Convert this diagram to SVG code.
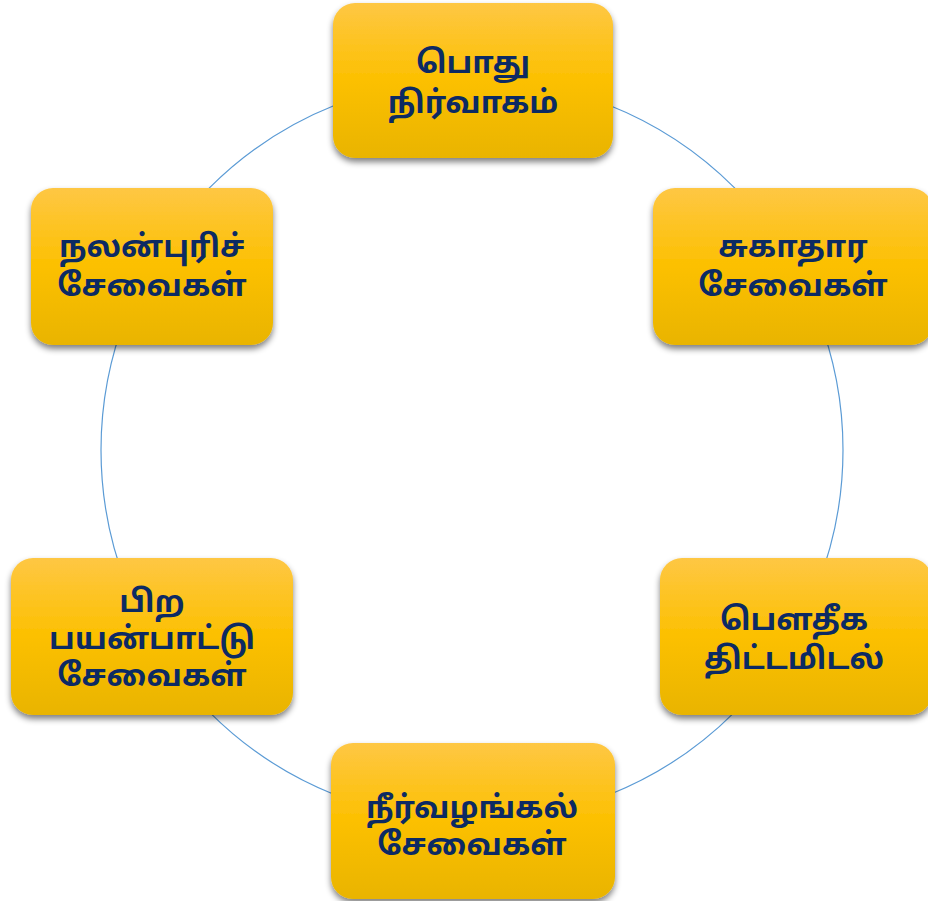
<svg xmlns="http://www.w3.org/2000/svg" width="928" height="901" viewBox="0 0 928 901">
<defs>
<linearGradient id="gold" x1="0" y1="0" x2="0" y2="1">
<stop offset="0" stop-color="#fec744"/>
<stop offset="0.5" stop-color="#fcc000"/>
<stop offset="1" stop-color="#e9b400"/>
</linearGradient>
<filter id="sh" x="-10%" y="-10%" width="120%" height="130%">
<feGaussianBlur in="SourceAlpha" stdDeviation="3"/>
<feOffset dx="0" dy="4" result="b"/>
<feComponentTransfer><feFuncA type="linear" slope="0.5"/></feComponentTransfer>
<feMerge><feMergeNode/><feMergeNode in="SourceGraphic"/></feMerge>
</filter>
</defs>
<style>
.box{fill:url(#gold);filter:url(#sh)}
.t{font-family:"Noto Sans Tamil","Latha","Noto Sans","DejaVu Sans",sans-serif;font-weight:bold;font-size:31px;fill:#0c2a63;text-anchor:middle}
.ring{fill:none;stroke:#5b9bd5;stroke-width:1.2}
</style>
<rect width="928" height="901" fill="#ffffff"/>
<g id="connectors">
<circle class="ring" cx="472" cy="450" r="371"/>
</g>
<g id="n1">
<rect class="box" x="333" y="3" width="280" height="155" rx="22"/>
<text class="t" x="473" y="73">பொது</text>
<text class="t" x="473" y="113">நிர்வாகம்</text>
</g>
<g id="n2">
<rect class="box" x="653" y="188" width="280" height="157" rx="22"/>
<text class="t" x="793" y="257">சுகாதார</text>
<text class="t" x="793" y="296">சேவைகள்</text>
</g>
<g id="n3">
<rect class="box" x="660" y="558" width="272" height="157" rx="22"/>
<text class="t" x="794" y="630">பௌதீக</text>
<text class="t" x="794" y="669">திட்டமிடல்</text>
</g>
<g id="n4">
<rect class="box" x="331" y="743" width="284" height="156" rx="22"/>
<text class="t" x="472" y="818">நீர்வழங்கல்</text>
<text class="t" x="472" y="855">சேவைகள்</text>
</g>
<g id="n5">
<rect class="box" x="11" y="558" width="282" height="157" rx="22"/>
<text class="t" x="152" y="612">பிற</text>
<text class="t" x="152" y="649">பயன்பாட்டு</text>
<text class="t" x="152" y="686">சேவைகள்</text>
</g>
<g id="n6">
<rect class="box" x="31" y="188" width="242" height="157" rx="22"/>
<text class="t" x="152" y="257">நலன்புரிச்</text>
<text class="t" x="152" y="296">சேவைகள்</text>
</g>
</svg>
